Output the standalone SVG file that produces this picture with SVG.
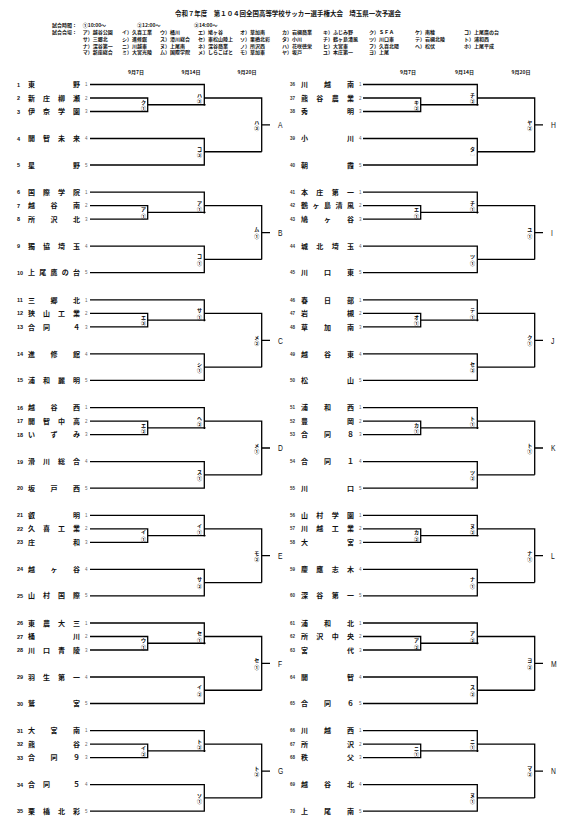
<svg xmlns="http://www.w3.org/2000/svg" xmlns:xlink="http://www.w3.org/1999/xlink" width="568" height="828" viewBox="0 0 568 828">
<style>
.ln{fill:none;stroke:#000;stroke-width:1.3}
.nm{font-family:"Noto Sans CJK JP","Noto Sans CJK SC",sans-serif;font-weight:bold;font-size:7px;fill:#111}
.no{font-family:"Liberation Sans",sans-serif;font-weight:bold;font-size:5.5px;fill:#111}
.nr{font-family:"Liberation Sans",sans-serif;font-weight:bold;font-size:4.5px;fill:#333}
.sd{font-family:"Liberation Sans",sans-serif;font-size:4.5px;fill:#666}
.lb{font-family:"Noto Sans CJK JP",sans-serif;font-weight:bold;font-size:5px;text-anchor:middle;fill:#000}
.bk{font-family:"Liberation Sans",sans-serif;font-size:9px;fill:#111}
.hd{font-family:"Noto Sans CJK JP",sans-serif;font-weight:bold;font-size:5px;fill:#111}
.tt{font-family:"Noto Sans CJK JP",sans-serif;font-weight:bold;font-size:6.5px;fill:#111}
.dt{font-family:"Noto Sans CJK JP",sans-serif;font-weight:bold;font-size:5px;text-anchor:middle;fill:#111}
</style>
<defs>
<path id="br" class="ln" d="M90,0H204.3V21.3M90,13.5H147.7V27H90M147.7,20.25H205.5M204.3,13.5H261.7V67.25M90,54H204.3V80.5H90M204.3,67.25H261.7M261.7,40.4H270"/>
</defs>
<rect width="568" height="828" fill="#fff"/>
<g id="header">
<text class="tt" x="175" y="16.3" textLength="226" lengthAdjust="spacingAndGlyphs">令和７年度　第１０４回全国高等学校サッカー選手権大会　埼玉県一次予選会</text>
<text class="hd" x="52" y="27.3">試合時間：</text>
<text class="hd" x="82.7" y="27.3">①10:00～</text>
<text class="hd" x="137" y="27.3">②12:00～</text>
<text class="hd" x="194" y="27.3">③14:00～</text>
<text class="hd" x="52" y="34.3">試合会場：</text>
<text class="hd" y="34.3"><tspan x="82.7">ア）越谷公園</tspan><tspan x="122">イ）久喜工業</tspan><tspan x="160">ウ）桶川</tspan><tspan x="198">エ）鳩ヶ谷</tspan><tspan x="240">オ）草加南</tspan><tspan x="282">カ）岩槻商業</tspan><tspan x="323">キ）ふじみ野</tspan><tspan x="369">ク）ＳＦＡ</tspan><tspan x="415">ケ）南稜</tspan><tspan x="464">コ）上尾鷹の台</tspan></text>
<text class="hd" y="41"><tspan x="82.7">サ）三郷北</tspan><tspan x="122">シ）進修館</tspan><tspan x="160">ス）滑川総合</tspan><tspan x="198">セ）東松山陸上</tspan><tspan x="240">ソ）栗橋北彩</tspan><tspan x="282">タ）小川</tspan><tspan x="323">チ）鶴ヶ島清風</tspan><tspan x="369">ツ）川口東</tspan><tspan x="415">テ）岩槻北陵</tspan><tspan x="464">ト）浦和西</tspan></text>
<text class="hd" y="47.7"><tspan x="82.7">ナ）深谷第一</tspan><tspan x="122">ニ）川越東</tspan><tspan x="160">ヌ）上尾南</tspan><tspan x="198">ネ）深谷商業</tspan><tspan x="240">ノ）所沢西</tspan><tspan x="282">ハ）花咲徳栄</tspan><tspan x="323">ヒ）大宮東</tspan><tspan x="369">フ）久喜北陽</tspan><tspan x="415">ヘ）松伏</tspan><tspan x="464">ホ）上尾平成</tspan></text>
<text class="hd" y="54.4"><tspan x="82.7">マ）新座総合</tspan><tspan x="122">ミ）大宮光陵</tspan><tspan x="160">ム）国際学院</tspan><tspan x="198">メ）しらこばと</tspan><tspan x="240">モ）草加東</tspan><tspan x="282">ヤ）坂戸</tspan><tspan x="323">ユ）本庄第一</tspan><tspan x="369">ヨ）上尾</tspan></text>
<text class="dt" y="73.5"><tspan x="136">9月7日</tspan><tspan x="191">9月14日</tspan><tspan x="247">9月20日</tspan><tspan x="408">9月7日</tspan><tspan x="464.5">9月14日</tspan><tspan x="521">9月20日</tspan></text>
</g>
<g id="connectors">
<use xlink:href="#br" y="84.5"/><use xlink:href="#br" y="192.2"/><use xlink:href="#br" y="299.9"/><use xlink:href="#br" y="407.6"/><use xlink:href="#br" y="515.3"/><use xlink:href="#br" y="623"/><use xlink:href="#br" y="730.7"/>
<use xlink:href="#br" x="273" y="84.5"/><use xlink:href="#br" x="273" y="192.2"/><use xlink:href="#br" x="273" y="299.9"/><use xlink:href="#br" x="273" y="407.6"/><use xlink:href="#br" x="273" y="515.3"/><use xlink:href="#br" x="273" y="623"/><use xlink:href="#br" x="273" y="730.7"/>
</g>
<g id="teams-left">
<g id="team-1" transform="translate(0,84.5)"><text class="no" x="17" y="2">1</text><text class="nm" x="28" y="2.6" textLength="52" lengthAdjust="spacing">東野</text><text class="sd" x="85" y="1.6">1</text></g>
<g id="team-2" transform="translate(0,98)"><text class="no" x="17" y="2">2</text><text class="nm" x="28" y="2.6" textLength="52" lengthAdjust="spacing">新庄柳瀬</text><text class="sd" x="85" y="1.6">2</text></g>
<g id="team-3" transform="translate(0,111.5)"><text class="no" x="17" y="2">3</text><text class="nm" x="28" y="2.6" textLength="52" lengthAdjust="spacing">伊奈学園</text><text class="sd" x="85" y="1.6">3</text></g>
<g id="team-4" transform="translate(0,138.5)"><text class="no" x="17" y="2">4</text><text class="nm" x="28" y="2.6" textLength="52" lengthAdjust="spacing">開智未来</text><text class="sd" x="85" y="1.6">4</text></g>
<g id="team-5" transform="translate(0,165)"><text class="no" x="17" y="2">5</text><text class="nm" x="28" y="2.6" textLength="52" lengthAdjust="spacing">星野</text><text class="sd" x="85" y="1.6">5</text></g>
<g id="team-6" transform="translate(0,192.2)"><text class="no" x="17" y="2">6</text><text class="nm" x="28" y="2.6" textLength="52" lengthAdjust="spacing">国際学院</text><text class="sd" x="85" y="1.6">1</text></g>
<g id="team-7" transform="translate(0,205.7)"><text class="no" x="17" y="2">7</text><text class="nm" x="28" y="2.6" textLength="52" lengthAdjust="spacing">越谷南</text><text class="sd" x="85" y="1.6">2</text></g>
<g id="team-8" transform="translate(0,219.2)"><text class="no" x="17" y="2">8</text><text class="nm" x="28" y="2.6" textLength="52" lengthAdjust="spacing">所沢北</text><text class="sd" x="85" y="1.6">3</text></g>
<g id="team-9" transform="translate(0,246.2)"><text class="no" x="17" y="2">9</text><text class="nm" x="28" y="2.6" textLength="52" lengthAdjust="spacing">獨協埼玉</text><text class="sd" x="85" y="1.6">4</text></g>
<g id="team-10" transform="translate(0,272.7)"><text class="no" x="17" y="2">10</text><text class="nm" x="28" y="2.6" textLength="52" lengthAdjust="spacing">上尾鷹の台</text><text class="sd" x="85" y="1.6">5</text></g>
<g id="team-11" transform="translate(0,299.9)"><text class="no" x="17" y="2">11</text><text class="nm" x="28" y="2.6" textLength="52" lengthAdjust="spacing">三郷北</text><text class="sd" x="85" y="1.6">1</text></g>
<g id="team-12" transform="translate(0,313.4)"><text class="no" x="17" y="2">12</text><text class="nm" x="28" y="2.6" textLength="52" lengthAdjust="spacing">狭山工業</text><text class="sd" x="85" y="1.6">2</text></g>
<g id="team-13" transform="translate(0,326.9)"><text class="no" x="17" y="2">13</text><text class="nm" x="28" y="2.6" textLength="52" lengthAdjust="spacing">合同　４</text><text class="sd" x="85" y="1.6">3</text></g>
<g id="team-14" transform="translate(0,353.9)"><text class="no" x="17" y="2">14</text><text class="nm" x="28" y="2.6" textLength="52" lengthAdjust="spacing">進修館</text><text class="sd" x="85" y="1.6">4</text></g>
<g id="team-15" transform="translate(0,380.4)"><text class="no" x="17" y="2">15</text><text class="nm" x="28" y="2.6" textLength="52" lengthAdjust="spacing">浦和麗明</text><text class="sd" x="85" y="1.6">5</text></g>
<g id="team-16" transform="translate(0,407.6)"><text class="no" x="17" y="2">16</text><text class="nm" x="28" y="2.6" textLength="52" lengthAdjust="spacing">越谷西</text><text class="sd" x="85" y="1.6">1</text></g>
<g id="team-17" transform="translate(0,421.1)"><text class="no" x="17" y="2">17</text><text class="nm" x="28" y="2.6" textLength="52" lengthAdjust="spacing">開智中高</text><text class="sd" x="85" y="1.6">2</text></g>
<g id="team-18" transform="translate(0,434.6)"><text class="no" x="17" y="2">18</text><text class="nm" x="28" y="2.6" textLength="52" lengthAdjust="spacing">いずみ</text><text class="sd" x="85" y="1.6">3</text></g>
<g id="team-19" transform="translate(0,461.6)"><text class="no" x="17" y="2">19</text><text class="nm" x="28" y="2.6" textLength="52" lengthAdjust="spacing">滑川総合</text><text class="sd" x="85" y="1.6">4</text></g>
<g id="team-20" transform="translate(0,488.1)"><text class="no" x="17" y="2">20</text><text class="nm" x="28" y="2.6" textLength="52" lengthAdjust="spacing">坂戸西</text><text class="sd" x="85" y="1.6">5</text></g>
<g id="team-21" transform="translate(0,515.3)"><text class="no" x="17" y="2">21</text><text class="nm" x="28" y="2.6" textLength="52" lengthAdjust="spacing">叡明</text><text class="sd" x="85" y="1.6">1</text></g>
<g id="team-22" transform="translate(0,528.8)"><text class="no" x="17" y="2">22</text><text class="nm" x="28" y="2.6" textLength="52" lengthAdjust="spacing">久喜工業</text><text class="sd" x="85" y="1.6">2</text></g>
<g id="team-23" transform="translate(0,542.3)"><text class="no" x="17" y="2">23</text><text class="nm" x="28" y="2.6" textLength="52" lengthAdjust="spacing">庄和</text><text class="sd" x="85" y="1.6">3</text></g>
<g id="team-24" transform="translate(0,569.3)"><text class="no" x="17" y="2">24</text><text class="nm" x="28" y="2.6" textLength="52" lengthAdjust="spacing">越ヶ谷</text><text class="sd" x="85" y="1.6">4</text></g>
<g id="team-25" transform="translate(0,595.8)"><text class="no" x="17" y="2">25</text><text class="nm" x="28" y="2.6" textLength="52" lengthAdjust="spacing">山村国際</text><text class="sd" x="85" y="1.6">5</text></g>
<g id="team-26" transform="translate(0,623)"><text class="no" x="17" y="2">26</text><text class="nm" x="28" y="2.6" textLength="52" lengthAdjust="spacing">東農大三</text><text class="sd" x="85" y="1.6">1</text></g>
<g id="team-27" transform="translate(0,636.5)"><text class="no" x="17" y="2">27</text><text class="nm" x="28" y="2.6" textLength="52" lengthAdjust="spacing">桶川</text><text class="sd" x="85" y="1.6">2</text></g>
<g id="team-28" transform="translate(0,650)"><text class="no" x="17" y="2">28</text><text class="nm" x="28" y="2.6" textLength="52" lengthAdjust="spacing">川口青陵</text><text class="sd" x="85" y="1.6">3</text></g>
<g id="team-29" transform="translate(0,677)"><text class="no" x="17" y="2">29</text><text class="nm" x="28" y="2.6" textLength="52" lengthAdjust="spacing">羽生第一</text><text class="sd" x="85" y="1.6">4</text></g>
<g id="team-30" transform="translate(0,703.5)"><text class="no" x="17" y="2">30</text><text class="nm" x="28" y="2.6" textLength="52" lengthAdjust="spacing">鷲宮</text><text class="sd" x="85" y="1.6">5</text></g>
<g id="team-31" transform="translate(0,730.7)"><text class="no" x="17" y="2">31</text><text class="nm" x="28" y="2.6" textLength="52" lengthAdjust="spacing">大宮南</text><text class="sd" x="85" y="1.6">1</text></g>
<g id="team-32" transform="translate(0,744.2)"><text class="no" x="17" y="2">32</text><text class="nm" x="28" y="2.6" textLength="52" lengthAdjust="spacing">熊谷</text><text class="sd" x="85" y="1.6">2</text></g>
<g id="team-33" transform="translate(0,757.7)"><text class="no" x="17" y="2">33</text><text class="nm" x="28" y="2.6" textLength="52" lengthAdjust="spacing">合同９</text><text class="sd" x="85" y="1.6">3</text></g>
<g id="team-34" transform="translate(0,784.7)"><text class="no" x="17" y="2">34</text><text class="nm" x="28" y="2.6" textLength="52" lengthAdjust="spacing">合同　５</text><text class="sd" x="85" y="1.6">4</text></g>
<g id="team-35" transform="translate(0,811.2)"><text class="no" x="17" y="2">35</text><text class="nm" x="28" y="2.6" textLength="52" lengthAdjust="spacing">栗橋北彩</text><text class="sd" x="85" y="1.6">5</text></g>
</g>
<g id="teams-right">
<g id="team-36" transform="translate(273,84.5)"><text class="nr" x="17" y="1.6">36</text><text class="nm" x="28" y="2.6" textLength="53" lengthAdjust="spacing">川越南</text><text class="sd" x="86" y="1.6">1</text></g>
<g id="team-37" transform="translate(273,98)"><text class="nr" x="17" y="1.6">37</text><text class="nm" x="28" y="2.6" textLength="53" lengthAdjust="spacing">熊谷農業</text><text class="sd" x="86" y="1.6">2</text></g>
<g id="team-38" transform="translate(273,111.5)"><text class="nr" x="17" y="1.6">38</text><text class="nm" x="28" y="2.6" textLength="53" lengthAdjust="spacing">秀明</text><text class="sd" x="86" y="1.6">3</text></g>
<g id="team-39" transform="translate(273,138.5)"><text class="nr" x="17" y="1.6">39</text><text class="nm" x="28" y="2.6" textLength="53" lengthAdjust="spacing">小川</text><text class="sd" x="86" y="1.6">4</text></g>
<g id="team-40" transform="translate(273,165)"><text class="nr" x="17" y="1.6">40</text><text class="nm" x="28" y="2.6" textLength="53" lengthAdjust="spacing">朝霞</text><text class="sd" x="86" y="1.6">5</text></g>
<g id="team-41" transform="translate(273,192.2)"><text class="nr" x="17" y="1.6">41</text><text class="nm" x="28" y="2.6" textLength="53" lengthAdjust="spacing">本庄第一</text><text class="sd" x="86" y="1.6">1</text></g>
<g id="team-42" transform="translate(273,205.7)"><text class="nr" x="17" y="1.6">42</text><text class="nm" x="28" y="2.6" textLength="53" lengthAdjust="spacing">鶴ヶ島清風</text><text class="sd" x="86" y="1.6">2</text></g>
<g id="team-43" transform="translate(273,219.2)"><text class="nr" x="17" y="1.6">43</text><text class="nm" x="28" y="2.6" textLength="53" lengthAdjust="spacing">鳩ヶ谷</text><text class="sd" x="86" y="1.6">3</text></g>
<g id="team-44" transform="translate(273,246.2)"><text class="nr" x="17" y="1.6">44</text><text class="nm" x="28" y="2.6" textLength="53" lengthAdjust="spacing">城北埼玉</text><text class="sd" x="86" y="1.6">4</text></g>
<g id="team-45" transform="translate(273,272.7)"><text class="nr" x="17" y="1.6">45</text><text class="nm" x="28" y="2.6" textLength="53" lengthAdjust="spacing">川口東</text><text class="sd" x="86" y="1.6">5</text></g>
<g id="team-46" transform="translate(273,299.9)"><text class="nr" x="17" y="1.6">46</text><text class="nm" x="28" y="2.6" textLength="53" lengthAdjust="spacing">春日部</text><text class="sd" x="86" y="1.6">1</text></g>
<g id="team-47" transform="translate(273,313.4)"><text class="nr" x="17" y="1.6">47</text><text class="nm" x="28" y="2.6" textLength="53" lengthAdjust="spacing">岩槻</text><text class="sd" x="86" y="1.6">2</text></g>
<g id="team-48" transform="translate(273,326.9)"><text class="nr" x="17" y="1.6">48</text><text class="nm" x="28" y="2.6" textLength="53" lengthAdjust="spacing">草加南</text><text class="sd" x="86" y="1.6">3</text></g>
<g id="team-49" transform="translate(273,353.9)"><text class="nr" x="17" y="1.6">49</text><text class="nm" x="28" y="2.6" textLength="53" lengthAdjust="spacing">越谷東</text><text class="sd" x="86" y="1.6">4</text></g>
<g id="team-50" transform="translate(273,380.4)"><text class="nr" x="17" y="1.6">50</text><text class="nm" x="28" y="2.6" textLength="53" lengthAdjust="spacing">松山</text><text class="sd" x="86" y="1.6">5</text></g>
<g id="team-51" transform="translate(273,407.6)"><text class="nr" x="17" y="1.6">51</text><text class="nm" x="28" y="2.6" textLength="53" lengthAdjust="spacing">浦和西</text><text class="sd" x="86" y="1.6">1</text></g>
<g id="team-52" transform="translate(273,421.1)"><text class="nr" x="17" y="1.6">52</text><text class="nm" x="28" y="2.6" textLength="53" lengthAdjust="spacing">豊岡</text><text class="sd" x="86" y="1.6">2</text></g>
<g id="team-53" transform="translate(273,434.6)"><text class="nr" x="17" y="1.6">53</text><text class="nm" x="28" y="2.6" textLength="53" lengthAdjust="spacing">合同８</text><text class="sd" x="86" y="1.6">3</text></g>
<g id="team-54" transform="translate(273,461.6)"><text class="nr" x="17" y="1.6">54</text><text class="nm" x="28" y="2.6" textLength="53" lengthAdjust="spacing">合同１</text><text class="sd" x="86" y="1.6">4</text></g>
<g id="team-55" transform="translate(273,488.1)"><text class="nr" x="17" y="1.6">55</text><text class="nm" x="28" y="2.6" textLength="53" lengthAdjust="spacing">川口</text><text class="sd" x="86" y="1.6">5</text></g>
<g id="team-56" transform="translate(273,515.3)"><text class="nr" x="17" y="1.6">56</text><text class="nm" x="28" y="2.6" textLength="53" lengthAdjust="spacing">山村学園</text><text class="sd" x="86" y="1.6">1</text></g>
<g id="team-57" transform="translate(273,528.8)"><text class="nr" x="17" y="1.6">57</text><text class="nm" x="28" y="2.6" textLength="53" lengthAdjust="spacing">川越工業</text><text class="sd" x="86" y="1.6">2</text></g>
<g id="team-58" transform="translate(273,542.3)"><text class="nr" x="17" y="1.6">58</text><text class="nm" x="28" y="2.6" textLength="53" lengthAdjust="spacing">大宮</text><text class="sd" x="86" y="1.6">3</text></g>
<g id="team-59" transform="translate(273,569.3)"><text class="nr" x="17" y="1.6">59</text><text class="nm" x="28" y="2.6" textLength="53" lengthAdjust="spacing">慶應志木</text><text class="sd" x="86" y="1.6">4</text></g>
<g id="team-60" transform="translate(273,595.8)"><text class="nr" x="17" y="1.6">60</text><text class="nm" x="28" y="2.6" textLength="53" lengthAdjust="spacing">深谷第一</text><text class="sd" x="86" y="1.6">5</text></g>
<g id="team-61" transform="translate(273,623)"><text class="nr" x="17" y="1.6">61</text><text class="nm" x="28" y="2.6" textLength="53" lengthAdjust="spacing">浦和北</text><text class="sd" x="86" y="1.6">1</text></g>
<g id="team-62" transform="translate(273,636.5)"><text class="nr" x="17" y="1.6">62</text><text class="nm" x="28" y="2.6" textLength="53" lengthAdjust="spacing">所沢中央</text><text class="sd" x="86" y="1.6">2</text></g>
<g id="team-63" transform="translate(273,650)"><text class="nr" x="17" y="1.6">63</text><text class="nm" x="28" y="2.6" textLength="53" lengthAdjust="spacing">宮代</text><text class="sd" x="86" y="1.6">3</text></g>
<g id="team-64" transform="translate(273,677)"><text class="nr" x="17" y="1.6">64</text><text class="nm" x="28" y="2.6" textLength="53" lengthAdjust="spacing">開智</text><text class="sd" x="86" y="1.6">4</text></g>
<g id="team-65" transform="translate(273,703.5)"><text class="nr" x="17" y="1.6">65</text><text class="nm" x="28" y="2.6" textLength="53" lengthAdjust="spacing">合同６</text><text class="sd" x="86" y="1.6">5</text></g>
<g id="team-66" transform="translate(273,730.7)"><text class="nr" x="17" y="1.6">66</text><text class="nm" x="28" y="2.6" textLength="53" lengthAdjust="spacing">川越西</text><text class="sd" x="86" y="1.6">1</text></g>
<g id="team-67" transform="translate(273,744.2)"><text class="nr" x="17" y="1.6">67</text><text class="nm" x="28" y="2.6" textLength="53" lengthAdjust="spacing">所沢</text><text class="sd" x="86" y="1.6">2</text></g>
<g id="team-68" transform="translate(273,757.7)"><text class="nr" x="17" y="1.6">68</text><text class="nm" x="28" y="2.6" textLength="53" lengthAdjust="spacing">秩父</text><text class="sd" x="86" y="1.6">3</text></g>
<g id="team-69" transform="translate(273,784.7)"><text class="nr" x="17" y="1.6">69</text><text class="nm" x="28" y="2.6" textLength="53" lengthAdjust="spacing">越谷北</text><text class="sd" x="86" y="1.6">4</text></g>
<g id="team-70" transform="translate(273,811.2)"><text class="nr" x="17" y="1.6">70</text><text class="nm" x="28" y="2.6" textLength="53" lengthAdjust="spacing">上尾南</text><text class="sd" x="86" y="1.6">5</text></g>
</g>
<g id="match-labels">
<g id="block-A" transform="translate(0,84.5)"><text class="lb" x="143.5" y="19.2">ク</text><text class="lb" x="143.5" y="25.5">①</text><text class="lb" x="199.5" y="12.4">ハ</text><text class="lb" x="199.5" y="18.7">③</text><text class="lb" x="199.5" y="66.2">コ</text><text class="lb" x="199.5" y="72.5">③</text><text class="lb" x="256.8" y="39.3">ハ</text><text class="lb" x="256.8" y="45.6">③</text><text class="bk" transform="translate(278,43.6) scale(0.75,1)">A</text></g>
<g id="block-B" transform="translate(0,192.2)"><text class="lb" x="143.5" y="19.2">ア</text><text class="lb" x="143.5" y="25.5">①</text><text class="lb" x="199.5" y="12.4">ア</text><text class="lb" x="199.5" y="18.7">①</text><text class="lb" x="199.5" y="66.2">コ</text><text class="lb" x="199.5" y="72.5">①</text><text class="lb" x="256.8" y="39.3">ム</text><text class="lb" x="256.8" y="45.6">①</text><text class="bk" transform="translate(278,43.6) scale(0.75,1)">B</text></g>
<g id="block-C" transform="translate(0,299.9)"><text class="lb" x="143.5" y="19.2">エ</text><text class="lb" x="143.5" y="25.5">③</text><text class="lb" x="199.5" y="12.4">サ</text><text class="lb" x="199.5" y="18.7">①</text><text class="lb" x="199.5" y="66.2">シ</text><text class="lb" x="199.5" y="72.5">①</text><text class="lb" x="256.8" y="39.3">メ</text><text class="lb" x="256.8" y="45.6">②</text><text class="bk" transform="translate(278,43.6) scale(0.75,1)">C</text></g>
<g id="block-D" transform="translate(0,407.6)"><text class="lb" x="143.5" y="19.2">エ</text><text class="lb" x="143.5" y="25.5">②</text><text class="lb" x="199.5" y="12.4">ヘ</text><text class="lb" x="199.5" y="18.7">②</text><text class="lb" x="199.5" y="66.2">ス</text><text class="lb" x="199.5" y="72.5">①</text><text class="lb" x="256.8" y="39.3">メ</text><text class="lb" x="256.8" y="45.6">①</text><text class="bk" transform="translate(278,43.6) scale(0.75,1)">D</text></g>
<g id="block-E" transform="translate(0,515.3)"><text class="lb" x="143.5" y="19.2">イ</text><text class="lb" x="143.5" y="25.5">①</text><text class="lb" x="199.5" y="12.4">イ</text><text class="lb" x="199.5" y="18.7">①</text><text class="lb" x="199.5" y="66.2">サ</text><text class="lb" x="199.5" y="72.5">②</text><text class="lb" x="256.8" y="39.3">モ</text><text class="lb" x="256.8" y="45.6">②</text><text class="bk" transform="translate(278,43.6) scale(0.75,1)">E</text></g>
<g id="block-F" transform="translate(0,623)"><text class="lb" x="143.5" y="19.2">ウ</text><text class="lb" x="143.5" y="25.5">①</text><text class="lb" x="199.5" y="12.4">セ</text><text class="lb" x="199.5" y="18.7">①</text><text class="lb" x="199.5" y="66.2">イ</text><text class="lb" x="199.5" y="72.5">②</text><text class="lb" x="256.8" y="39.3">セ</text><text class="lb" x="256.8" y="45.6">①</text><text class="bk" transform="translate(278,43.6) scale(0.75,1)">F</text></g>
<g id="block-G" transform="translate(0,730.7)"><text class="lb" x="143.5" y="19.2">イ</text><text class="lb" x="143.5" y="25.5">②</text><text class="lb" x="199.5" y="12.4">ト</text><text class="lb" x="199.5" y="18.7">②</text><text class="lb" x="199.5" y="66.2">ソ</text><text class="lb" x="199.5" y="72.5">①</text><text class="lb" x="256.8" y="39.3">ト</text><text class="lb" x="256.8" y="45.6">②</text><text class="bk" transform="translate(278,43.6) scale(0.75,1)">G</text></g>
<g id="block-H" transform="translate(273,84.5)"><text class="lb" x="143.5" y="19.2">キ</text><text class="lb" x="143.5" y="25.5">②</text><text class="lb" x="199.5" y="12.4">チ</text><text class="lb" x="199.5" y="18.7">②</text><text class="lb" x="199.5" y="66.2">タ</text><text class="lb" x="199.5" y="71.5" style="font-size:2.5px;font-weight:normal;fill:#999">（－）</text><text class="lb" x="256.8" y="39.3">ヤ</text><text class="lb" x="256.8" y="45.6">②</text><text class="bk" transform="translate(278,43.6) scale(0.75,1)">H</text></g>
<g id="block-I" transform="translate(273,192.2)"><text class="lb" x="143.5" y="19.2">エ</text><text class="lb" x="143.5" y="25.5">①</text><text class="lb" x="199.5" y="12.4">チ</text><text class="lb" x="199.5" y="18.7">①</text><text class="lb" x="199.5" y="66.2">ツ</text><text class="lb" x="199.5" y="72.5">①</text><text class="lb" x="256.8" y="39.3">ユ</text><text class="lb" x="256.8" y="45.6">①</text><text class="bk" transform="translate(278,43.6) scale(0.75,1)">I</text></g>
<g id="block-J" transform="translate(273,299.9)"><text class="lb" x="143.5" y="19.2">オ</text><text class="lb" x="143.5" y="25.5">①</text><text class="lb" x="199.5" y="12.4">テ</text><text class="lb" x="199.5" y="18.7">①</text><text class="lb" x="199.5" y="66.2">セ</text><text class="lb" x="199.5" y="72.5">②</text><text class="lb" x="256.8" y="39.3">ク</text><text class="lb" x="256.8" y="45.6">①</text><text class="bk" transform="translate(278,43.6) scale(0.75,1)">J</text></g>
<g id="block-K" transform="translate(273,407.6)"><text class="lb" x="143.5" y="19.2">カ</text><text class="lb" x="143.5" y="25.5">①</text><text class="lb" x="199.5" y="12.4">ト</text><text class="lb" x="199.5" y="18.7">①</text><text class="lb" x="199.5" y="66.2">ツ</text><text class="lb" x="199.5" y="72.5">②</text><text class="lb" x="256.8" y="39.3">ト</text><text class="lb" x="256.8" y="45.6">①</text><text class="bk" transform="translate(278,43.6) scale(0.75,1)">K</text></g>
<g id="block-L" transform="translate(273,515.3)"><text class="lb" x="143.5" y="19.2">カ</text><text class="lb" x="143.5" y="25.5">②</text><text class="lb" x="199.5" y="12.4">ヌ</text><text class="lb" x="199.5" y="18.7">②</text><text class="lb" x="199.5" y="66.2">ナ</text><text class="lb" x="199.5" y="72.5">①</text><text class="lb" x="256.8" y="39.3">ナ</text><text class="lb" x="256.8" y="45.6">①</text><text class="bk" transform="translate(278,43.6) scale(0.75,1)">L</text></g>
<g id="block-M" transform="translate(273,623)"><text class="lb" x="143.5" y="19.2">ア</text><text class="lb" x="143.5" y="25.5">②</text><text class="lb" x="199.5" y="12.4">ア</text><text class="lb" x="199.5" y="18.7">②</text><text class="lb" x="199.5" y="66.2">ス</text><text class="lb" x="199.5" y="72.5">②</text><text class="lb" x="256.8" y="39.3">ヨ</text><text class="lb" x="256.8" y="45.6">②</text><text class="bk" transform="translate(278,43.6) scale(0.75,1)">M</text></g>
<g id="block-N" transform="translate(273,730.7)"><text class="lb" x="143.5" y="19.2">ニ</text><text class="lb" x="143.5" y="25.5">①</text><text class="lb" x="199.5" y="12.4">ニ</text><text class="lb" x="199.5" y="18.7">①</text><text class="lb" x="199.5" y="66.2">ヌ</text><text class="lb" x="199.5" y="72.5">①</text><text class="lb" x="256.8" y="39.3">マ</text><text class="lb" x="256.8" y="45.6">②</text><text class="bk" transform="translate(278,43.6) scale(0.75,1)">N</text></g>
</g>
</svg>
